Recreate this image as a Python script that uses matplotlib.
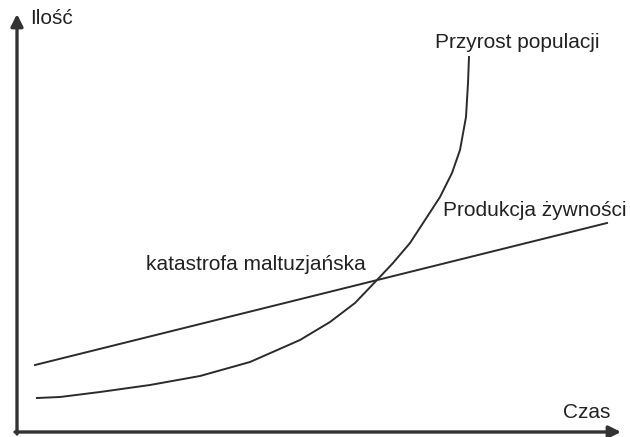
import matplotlib.pyplot as plt

# Population growth curve (time, amount)
pop_t = [20, 43, 83, 133, 183, 233, 283, 313, 338, 360, 376, 393,
         410, 423, 435, 443, 449, 451, 452]
pop_v = [34, 35, 40, 47, 56, 70, 92, 110, 129, 152, 169, 189,
         215, 235, 259, 282, 315, 349, 375]

# Food production (linear)
food_t = [18, 590]
food_v = [67, 209]

x_label = "Czas"
y_label = "Ilość"

fig = plt.figure(figsize=(6.3, 4.37), dpi=100)
ax = fig.add_axes([0, 0, 1, 1])
ax.set_xlim(-17, 613)
ax.set_ylim(-5, 432)
ax.axis('off')

line_col = '#2b2b2b'
ax.plot(pop_t, pop_v, color=line_col, lw=1.4)
ax.plot(food_t, food_v, color=line_col, lw=1.4)

# axes with arrow heads
arrow = dict(arrowstyle='-|>', color='#333333', lw=2.4,
             mutation_scale=18, shrinkA=0, shrinkB=0)
ax.annotate('', xy=(0, 418), xytext=(0, -2), arrowprops=arrow)
ax.annotate('', xy=(604, 0), xytext=(-2, 0), arrowprops=arrow)

font = dict(family='Liberation Sans', fontsize=15, color='#222222')
ax.text(13, 413, y_label, va='center', ha='left', **font)
ax.text(593, 19, x_label, va='center', ha='right', **font)
ax.text(418, 390, "Przyrost populacji", va='center', ha='left', **font)
ax.text(426, 222, "Produkcja żywności", va='center', ha='left', **font)
ax.text(129, 167, "katastrofa maltuzjańska", va='center', ha='left', **font)

fig.savefig('out.png', dpi=100, facecolor='white')
